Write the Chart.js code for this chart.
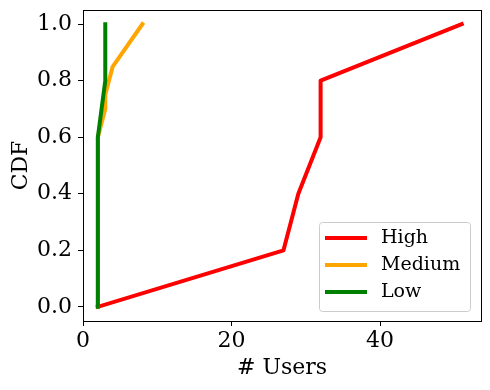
<!DOCTYPE html>
<html lang="en">
<head>
    <meta charset="UTF-8">
    <title>CDF of users</title>
    <script src="https://cdn.jsdelivr.net/npm/chart.js"></script>
    <style>
        html, body { margin: 0; padding: 0; background: #fff; }
        #wrap { width: 490px; height: 390px; }
    </style>
</head>
<body>
<div id="wrap"><canvas id="cdfChart" width="490" height="390"></canvas></div>

<script>
    // values
    const highUsers = [2, 27, 29, 32, 32, 51];
    const highCdf   = [0, 0.2, 0.4, 0.6, 0.8, 1.0];
    const mediumUsers = [2, 2, 3, 3, 4, 8];
    const mediumCdf   = [0, 0.6, 0.7, 0.75, 0.85, 1.0];
    const lowUsers = [2, 2, 3, 3];
    const lowCdf   = [0, 0.6, 0.8, 1.0];
    const xTicks = [0, 20, 40];
    const yTicks = [0, 0.2, 0.4, 0.6, 0.8, 1.0];

    const serif = "'DejaVu Serif', serif";

    function toPoints(xs, ys) {
        return xs.map((x, i) => ({ x: x, y: ys[i] }));
    }

    // legend inside lower right, like matplotlib
    const legendBox = {
        id: 'legendBox',
        afterDraw(chart) {
            const c = chart.ctx;
            const a = chart.chartArea;
            c.save();
            const w = 151, h = 89;
            const bx = Math.round(a.right) - 11 - w, by = Math.round(a.bottom) - 10 - h;
            c.fillStyle = 'rgba(255,255,255,0.8)';
            c.strokeStyle = '#cccccc';
            c.lineWidth = 1;
            c.beginPath();
            c.roundRect(bx + 0.5, by + 0.5, w, h, 3);
            c.fill();
            c.stroke();
            c.font = '19px ' + serif;
            c.textBaseline = 'middle';
            chart.data.datasets.forEach((ds, i) => {
                const yy = by + 16 + i * 27;
                c.strokeStyle = ds.borderColor;
                c.lineWidth = 4;
                c.beginPath();
                c.moveTo(bx + 6, yy);
                c.lineTo(bx + 48, yy);
                c.stroke();
                c.fillStyle = '#000';
                c.fillText(ds.label, bx + 62, yy);
            });
            c.restore();
        }
    };

    // axes that only draw the top / right edge of the box
    const edgeAxis = (pos, horizontal) => ({
        type: 'linear',
        position: pos,
        display: true,
        ticks: { display: false },
        grid: { drawOnChartArea: false, drawTicks: false },
        border: { display: true, color: '#000' },
        afterFit: s => {
            if (horizontal) { s.height = 0; } else { s.width = 0; }
            s.paddingTop = s.paddingBottom = s.paddingLeft = s.paddingRight = 0;
        }
    });

    const ctx = document.getElementById('cdfChart').getContext('2d');
    new Chart(ctx, {
        type: 'scatter',
        data: {
            // order: lower value is drawn on top, so Low ends up over the others
            datasets: [{
                label: 'High',
                data: toPoints(highUsers, highCdf),
                borderColor: '#ff0000',
                order: 3
            }, {
                label: 'Medium',
                data: toPoints(mediumUsers, mediumCdf),
                borderColor: '#ffa500',
                order: 2
            }, {
                label: 'Low',
                data: toPoints(lowUsers, lowCdf),
                borderColor: '#008000',
                order: 1
            }]
        },
        options: {
            responsive: false,
            animation: false,
            showLine: true,
            borderWidth: 4,
            borderCapStyle: 'square',
            borderJoinStyle: 'round',
            pointRadius: 0,
            pointHoverRadius: 0,
            layout: { padding: { top: 10, right: 9, left: 0, bottom: 0 } },
            plugins: {
                legend: { display: false },
                tooltip: { enabled: false }
            },
            scales: {
                x: {
                    type: 'linear',
                    min: 0,
                    max: 53.6,
                    afterBuildTicks: s => { s.ticks = xTicks.map(v => ({ value: v })); },
                    afterFit: s => { s.height = 69; s.paddingLeft = 0; s.paddingRight = 0; },
                    grid: { drawOnChartArea: false, drawTicks: true, tickLength: 5, color: '#000' },
                    border: { color: '#000' },
                    ticks: { color: '#000', font: { family: serif, size: 22 }, padding: 2, maxRotation: 0 },
                    title: { display: true, text: '# Users', color: '#000', font: { family: serif, size: 22 }, padding: { top: 0, bottom: 9 } }
                },
                y: {
                    min: -0.05,
                    max: 1.05,
                    afterBuildTicks: s => { s.ticks = yTicks.map(v => ({ value: v })); },
                    afterFit: s => { s.width = 83; s.paddingTop = 0; s.paddingBottom = 0; },
                    grid: { drawOnChartArea: false, drawTicks: true, tickLength: 5, color: '#000' },
                    border: { color: '#000' },
                    ticks: { color: '#000', font: { family: serif, size: 22 }, padding: 6,
                             callback: v => v.toFixed(1) },
                    title: { display: true, text: 'CDF', color: '#000', font: { family: serif, size: 22 }, padding: { top: 8, bottom: 0 } }
                },
                xTop: edgeAxis('top', true),
                yRight: edgeAxis('right', false)
            }
        },
        plugins: [legendBox]
    });
</script>
</body>
</html>
